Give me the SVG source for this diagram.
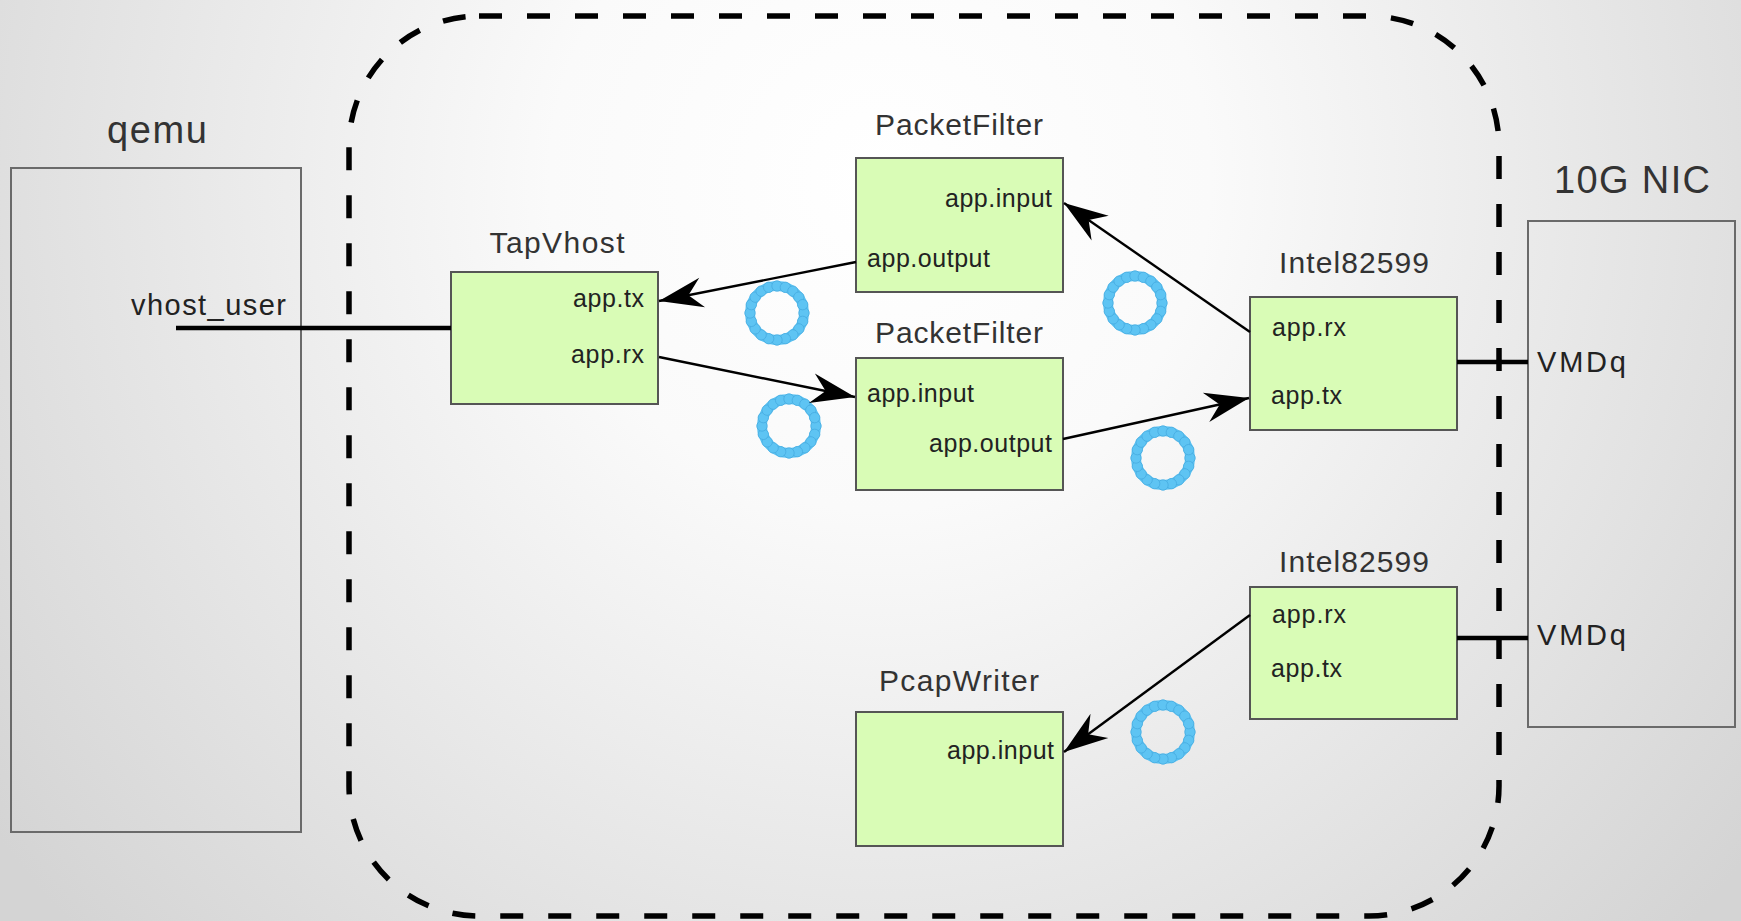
<svg xmlns="http://www.w3.org/2000/svg" xmlns:xlink="http://www.w3.org/1999/xlink" width="1741" height="921" viewBox="0 0 1741 921">
<defs>
<radialGradient id="bg" gradientUnits="userSpaceOnUse" cx="880" cy="180" r="1100">
<stop offset="0" stop-color="#ffffff"/>
<stop offset="0.3" stop-color="#fafafa"/>
<stop offset="1" stop-color="#d4d4d4"/>
</radialGradient>
<marker id="arr" markerUnits="userSpaceOnUse" markerWidth="50" markerHeight="36" viewBox="-46 -18 50 36" refX="0" refY="0" orient="auto">
<path d="M0,0 L-44,-15 L-30,0 L-44,15 Z" fill="#000"/>
</marker>
<g id="ring">
<circle cx="0" cy="0" r="27" fill="none" stroke="#5ec4f3" stroke-width="10"/>
<g fill="#5ec4f3" stroke="#48aee2" stroke-width="0.9">
<circle cx="27" cy="0" r="5.2"/><circle cx="25.68" cy="8.34" r="5.2"/><circle cx="21.84" cy="15.87" r="5.2"/><circle cx="15.87" cy="21.84" r="5.2"/><circle cx="8.34" cy="25.68" r="5.2"/>
<circle cx="0" cy="27" r="5.2"/><circle cx="-8.34" cy="25.68" r="5.2"/><circle cx="-15.87" cy="21.84" r="5.2"/><circle cx="-21.84" cy="15.87" r="5.2"/><circle cx="-25.68" cy="8.34" r="5.2"/>
<circle cx="-27" cy="0" r="5.2"/><circle cx="-25.68" cy="-8.34" r="5.2"/><circle cx="-21.84" cy="-15.87" r="5.2"/><circle cx="-15.87" cy="-21.84" r="5.2"/><circle cx="-8.34" cy="-25.68" r="5.2"/>
<circle cx="0" cy="-27" r="5.2"/><circle cx="8.34" cy="-25.68" r="5.2"/><circle cx="15.87" cy="-21.84" r="5.2"/><circle cx="21.84" cy="-15.87" r="5.2"/><circle cx="25.68" cy="-8.34" r="5.2"/>
</g>
</g>
</defs>
<style>
.box{fill:#d9fcb6;stroke:#555;stroke-width:2}
.plain{fill:none;stroke:#6a6a6a;stroke-width:2}
.title{font-family:"Liberation Sans",Arial,sans-serif;font-size:30px;fill:#333}
.port{font-family:"Liberation Sans",Arial,sans-serif;font-size:25px;fill:#222}
.big{font-family:"Liberation Sans",Arial,sans-serif;font-size:38px;fill:#333}
.label{font-family:"Liberation Sans",Arial,sans-serif;font-size:29px;fill:#222}
.conn{stroke:#000;stroke-width:2.4;fill:none}
.thick{stroke:#000;stroke-width:4.5;fill:none}
</style>
<rect x="0" y="0" width="1741" height="921" fill="url(#bg)"/>

<g id="frame">
<rect x="349" y="16" width="1150" height="900" rx="130" ry="130" fill="none" stroke="#000" stroke-width="5.5" stroke-dasharray="23 25"/>
</g>

<g id="qemu">
<rect class="plain" x="11" y="168" width="290" height="664"/>
<text class="big" x="157" y="143" text-anchor="middle" textLength="100">qemu</text>
<text class="label" x="286" y="315" text-anchor="end" textLength="155">vhost_user</text>
</g>

<g id="nic">
<rect class="plain" x="1528" y="221" width="207" height="506"/>
<text class="big" x="1632" y="193" text-anchor="middle" textLength="156">10G NIC</text>
<text class="label" x="1537" y="372" textLength="89">VMDq</text>
<text class="label" x="1537" y="645" textLength="89">VMDq</text>
</g>

<g id="tapvhost">
<rect class="box" x="451" y="272" width="207" height="132"/>
<text class="title" x="557" y="253" text-anchor="middle" textLength="135">TapVhost</text>
<text class="port" x="644" y="307" text-anchor="end" textLength="71">app.tx</text>
<text class="port" x="644" y="363" text-anchor="end" textLength="73">app.rx</text>
</g>

<g id="packetfilter1">
<rect class="box" x="856" y="158" width="207" height="134"/>
<text class="title" x="959" y="135" text-anchor="middle" textLength="168">PacketFilter</text>
<text class="port" x="1052" y="207" text-anchor="end" textLength="107">app.input</text>
<text class="port" x="867" y="267" textLength="123">app.output</text>
</g>

<g id="packetfilter2">
<rect class="box" x="856" y="358" width="207" height="132"/>
<text class="title" x="959" y="343" text-anchor="middle" textLength="168">PacketFilter</text>
<text class="port" x="867" y="402" textLength="107">app.input</text>
<text class="port" x="1052" y="452" text-anchor="end" textLength="123">app.output</text>
</g>

<g id="intel1">
<rect class="box" x="1250" y="297" width="207" height="133"/>
<text class="title" x="1354" y="273" text-anchor="middle" textLength="150">Intel82599</text>
<text class="port" x="1272" y="336" textLength="74">app.rx</text>
<text class="port" x="1271" y="404" textLength="71">app.tx</text>
</g>

<g id="intel2">
<rect class="box" x="1250" y="587" width="207" height="132"/>
<text class="title" x="1354" y="572" text-anchor="middle" textLength="150">Intel82599</text>
<text class="port" x="1272" y="623" textLength="74">app.rx</text>
<text class="port" x="1271" y="677" textLength="71">app.tx</text>
</g>

<g id="pcapwriter">
<rect class="box" x="856" y="712" width="207" height="134"/>
<text class="title" x="959" y="691" text-anchor="middle" textLength="160">PcapWriter</text>
<text class="port" x="1054" y="759" text-anchor="end" textLength="107">app.input</text>
</g>

<g id="rings">
<use xlink:href="#ring" x="777" y="313"/>
<use xlink:href="#ring" x="789" y="426"/>
<use xlink:href="#ring" x="1135" y="303"/>
<use xlink:href="#ring" x="1163" y="458"/>
<use xlink:href="#ring" x="1163" y="732"/>
</g>

<g id="connectors">
<line class="thick" x1="176" y1="328" x2="451" y2="328"/>
<line class="thick" x1="1457" y1="362" x2="1528" y2="362"/>
<line class="thick" x1="1457" y1="638" x2="1528" y2="638"/>
<line class="conn" x1="856" y1="262" x2="659" y2="301" marker-end="url(#arr)"/>
<line class="conn" x1="659" y1="357" x2="855" y2="397" marker-end="url(#arr)"/>
<line class="conn" x1="1250" y1="332" x2="1064" y2="203" marker-end="url(#arr)"/>
<line class="conn" x1="1063" y1="439" x2="1249" y2="398" marker-end="url(#arr)"/>
<line class="conn" x1="1250" y1="615" x2="1064" y2="752" marker-end="url(#arr)"/>
</g>
</svg>
